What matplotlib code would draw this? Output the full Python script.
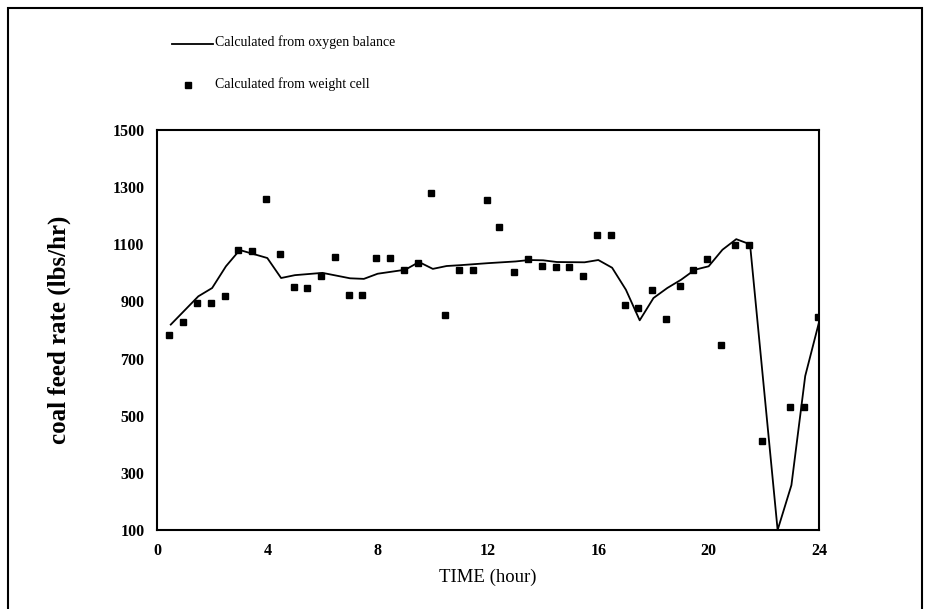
import matplotlib
matplotlib.use("Agg")
import matplotlib.pyplot as plt
from matplotlib.patches import Rectangle
from matplotlib.lines import Line2D

plt.rcParams['font.family'] = ['Liberation Serif', 'DejaVu Serif']

# Calculated from oxygen balance (line)
line_time = [0.5, 1.5, 2.0, 2.5, 3.0, 4.0, 4.5, 5.0, 6.0, 7.0, 7.5, 8.0, 9.0, 9.5,
             10.0, 10.5, 11.0, 12.0, 13.0, 13.5, 14.0, 14.5, 15.5, 16.0, 16.5, 17.0,
             17.5, 18.0, 18.5, 19.0, 19.5, 20.0, 20.5, 21.0, 21.5, 22.5, 23.0, 23.5, 24.0]
line_rate = [819, 918, 947, 1023, 1080, 1052, 982, 992, 1000, 981, 979, 997, 1011, 1038,
             1014, 1024, 1027, 1034, 1040, 1045, 1044, 1038, 1037, 1045, 1018, 941,
             834, 912, 947, 976, 1011, 1023, 1081, 1118, 1100, 100, 257, 639, 827]

# Calculated from weight cell (points)
pt_time = [0.45, 0.95, 1.45, 1.95, 2.45, 2.95, 3.45, 3.95, 4.45, 4.95, 5.45, 5.95,
           6.45, 6.95, 7.45, 7.95, 8.45, 8.95, 9.45, 9.95, 10.45, 10.95, 11.45, 11.95,
           12.4, 12.95, 13.45, 13.95, 14.45, 14.95, 15.45, 15.95, 16.45, 16.95, 17.45,
           17.95, 18.45, 18.95, 19.45, 19.95, 20.45, 20.95, 21.45, 21.95, 22.95, 23.45, 23.95]
pt_rate = [783, 829, 895, 895, 920, 1081, 1075, 1259, 1065, 951, 946, 990,
           1056, 922, 922, 1051, 1051, 1009, 1035, 1281, 851, 1009, 1009, 1255,
           1159, 1004, 1049, 1025, 1021, 1021, 990, 1133, 1133, 888, 876,
           941, 837, 953, 1009, 1049, 749, 1097, 1097, 411, 532, 532, 846]

x_ticks = [0, 4, 8, 12, 16, 20, 24]
y_ticks = [100, 300, 500, 700, 900, 1100, 1300, 1500]

fig = plt.figure(figsize=(9.31, 6.09), dpi=100)
ax = fig.add_axes([0.1686, 0.1297, 0.7111, 0.6568])

ax.plot(line_time, line_rate, color='black', lw=1.3, zorder=3)
ax.plot(pt_time, pt_rate, ls='none', marker='s', ms=4.6, color='black', zorder=4)

ax.set_xlim(0, 24)
ax.set_ylim(100, 1500)
ax.set_xticks(x_ticks)
ax.set_yticks(y_ticks)
ax.tick_params(length=0, pad=9)
for lab in ax.get_xticklabels() + ax.get_yticklabels():
    lab.set_fontsize(11.5)
    lab.set_fontweight('bold')
for s in ax.spines.values():
    s.set_linewidth(1.5)
    s.set_color('black')

ax.set_xlabel('TIME (hour)', fontsize=13.5, labelpad=7)
ax.set_ylabel('coal feed rate (lbs/hr)', fontsize=18, fontweight='bold', labelpad=30)

# legend drawn in figure coordinates
fig.add_artist(Line2D([172/931, 213/931], [1-44/609, 1-44/609], color='black', lw=1.3))
fig.text(215/931, 1-42/609, 'Calculated from oxygen balance', fontsize=10, va='center', ha='left')
fig.add_artist(Line2D([188/931], [1-85/609], marker='s', ms=4.2, color='black', ls='none'))
fig.text(215/931, 1-84/609, 'Calculated from weight cell', fontsize=10, va='center', ha='left')

# outer frame
fig.add_artist(Rectangle((8/931, -0.02), 914/931, 1 - 8/609 + 0.02,
                         fill=False, edgecolor='black', lw=1.5, transform=fig.transFigure))

fig.savefig('out.png', dpi=100)
